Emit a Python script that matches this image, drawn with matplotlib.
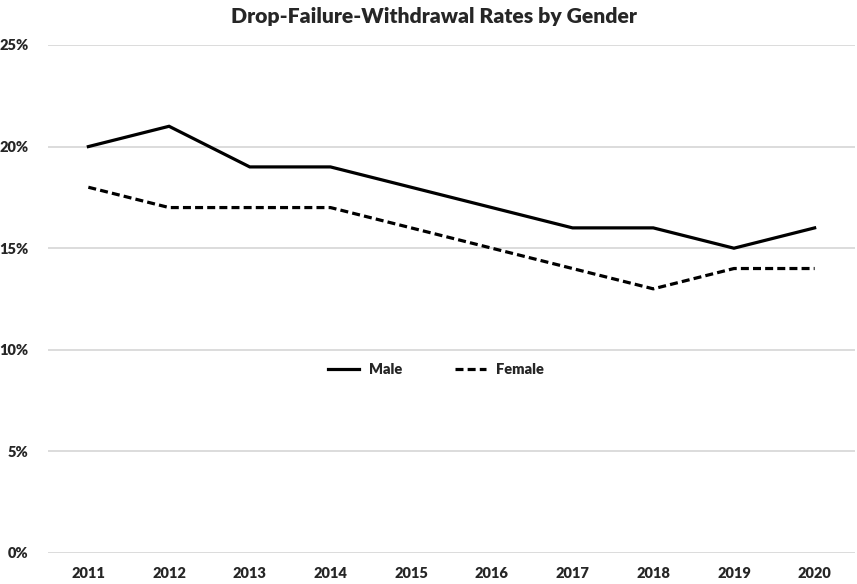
import matplotlib
matplotlib.use("Agg")
import matplotlib.pyplot as plt
from matplotlib.ticker import FuncFormatter

years = ["2011", "2012", "2013", "2014", "2015", "2016", "2017", "2018", "2019", "2020"]
male = [20, 21, 19, 19, 18, 17, 16, 16, 15, 16]
female = [18, 17, 17, 17, 16, 15, 14, 13, 14, 14]
y_ticks = [0, 5, 10, 15, 20, 25]

plt.rcParams["font.family"] = ["Lato", "DejaVu Sans"]
WEIGHT = "heavy"

W, H = 857, 584
fig = plt.figure(figsize=(W / 100, H / 100), dpi=100)
ax = fig.add_axes([48 / W, 31 / H, (855 - 48) / W, (553 - 45) / H])

x = list(range(len(years)))
ax.plot(x, male, color="black", linewidth=2.3, solid_joinstyle="miter", label="Male")
ax.plot(x, female, color="black", linewidth=2.3, linestyle=(0, (2.5, 1.3)), label="Female")

ax.set_xlim(-0.5, len(years) - 0.5)
ax.set_ylim(0, 25)
ax.set_yticks(y_ticks)
ax.yaxis.set_major_formatter(FuncFormatter(lambda v, p: f"{v:.0f}%"))
ax.set_xticks(x)
ax.set_xticklabels(years)

ax.grid(axis="y", color="#d9d9d9", linewidth=1.3)
ax.set_axisbelow(True)
for s in ax.spines.values():
    s.set_visible(False)
ax.tick_params(axis="both", length=0, labelsize=10.5, colors="#262626")
ax.tick_params(axis="y", pad=14)
ax.tick_params(axis="x", pad=10)
for lab in ax.get_xticklabels() + ax.get_yticklabels():
    lab.set_fontweight(WEIGHT)

fig.text(434 / W, 1 - 16 / H, "Drop-Failure-Withdrawal Rates by Gender", ha="center", va="center",
         fontsize=15.2, fontweight=WEIGHT, color="#262626")

leg = ax.legend(loc="center", bbox_to_anchor=((436 - 48) / (855 - 48), (553 - 370) / (553 - 45)),
                ncol=2, frameon=False, handlelength=2.1, handletextpad=0.7, columnspacing=3.6,
                prop={"weight": WEIGHT, "size": 10.5})
for t in leg.get_texts():
    t.set_color("#262626")

fig.savefig("out.png", dpi=100, facecolor="white")
